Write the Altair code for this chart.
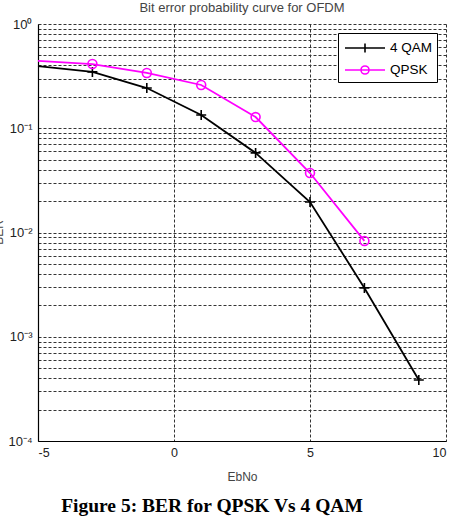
import altair as alt
import pandas as pd

# ---- data ----
ebno = [-5, -3, -1, 1, 3, 5, 7, 9]
qam4 = [0.395, 0.347, 0.243, 0.134, 0.058, 0.0196, 0.00294, 0.000385]
ebno_qpsk = [-5, -3, -1, 1, 3, 5, 7]
qpsk = [0.442, 0.413, 0.339, 0.260, 0.128, 0.0372, 0.0083]
series_names = ["4 QAM", "QPSK"]
series_colors = ["#000000", "#ff00ff"]
x_ticks = [-5, 0, 5, 10]
y_grid = [m * 10.0 ** e for e in range(-4, 0) for m in range(1, 10)] + [1.0]

title_text = "Bit error probability curve for OFDM"
caption_text = "Figure 5: BER for QPSK Vs 4 QAM"

rows = [{"EbNo": x, "BER": y, "series": "4 QAM"} for x, y in zip(ebno, qam4)]
rows += [{"EbNo": x, "BER": y, "series": "QPSK"} for x, y in zip(ebno_qpsk, qpsk)]
df = pd.DataFrame(rows)

FONT = "Liberation Sans Narrow, Liberation Sans, Arial"
plus_path = "M-1,0H1M0,-1V1"
leg_plus = "M-2,0H2M0,-0.45V0.45"
leg_circ = "M-2,0H2M-0.4,0A0.4,0.4 0 1,1 0.4,0A0.4,0.4 0 1,1 -0.4,0"

x_enc = alt.X(
    "EbNo:Q",
    scale=alt.Scale(domain=[-5, 10], nice=False, zero=False),
    axis=alt.Axis(
        values=x_ticks, title="EbNo", grid=True, ticks=False,
        labelFontSize=12.5, labelPadding=5, labelFont=FONT, labelColor="#222",
        titleFont=FONT, titleFontSize=12, titleFontWeight="normal", titleColor="#444",
        titleY=30, titleBaseline="top",
        domainColor="#000", domainWidth=1.2,
        gridColor="#333", gridDash=[3, 2], gridWidth=1, gridOpacity=1,
        labelExpr="toString(datum.value)",
    ),
)
sup = "{'0':'\u2070','1':'\u00b9','2':'\u00b2','3':'\u00b3','4':'\u2074'}"
y_enc = alt.Y(
    "BER:Q",
    scale=alt.Scale(type="log", domain=[1e-4, 1], nice=False),
    axis=alt.Axis(
        values=y_grid, title="BER", grid=True, ticks=False,
        labelFontSize=13, labelPadding=6, labelFont=FONT, labelColor="#222",
        labelExpr=(
            "abs(log(datum.value)/log(10) - round(log(datum.value)/log(10))) < 1e-6 ? "
            "(round(log(datum.value)/log(10)) == 0 ? '10\u2070' : "
            "'10\u207b' + " + sup + "[toString(-round(log(datum.value)/log(10)))]) : ''"
        ),
        titleFont=FONT, titleFontSize=12, titleFontWeight="normal", titleColor="#444",
        titleX=-33, titleY=208, titleAngle=-90, titleBaseline="bottom",
        domainColor="#000", domainWidth=1.2,
        gridColor="#333", gridDash=[3, 2], gridWidth=1, gridOpacity=1,
    ),
)

color_cond = alt.condition("datum.series == 'QPSK'", alt.value(series_colors[1]), alt.value(series_colors[0]))

lines = alt.Chart(df).mark_line(strokeWidth=1.8).encode(
    x=x_enc, y=y_enc, color=color_cond, detail="series:N"
)

points = alt.Chart(df).transform_filter("datum.EbNo > -5").mark_point(
    filled=False, strokeWidth=1.6, opacity=1
).encode(
    x="EbNo:Q", y="BER:Q",
    color=color_cond,
    shape=alt.condition("datum.series == 'QPSK'", alt.value("circle"), alt.value(plus_path)),
    size=alt.condition("datum.series == 'QPSK'", alt.value(80), alt.value(100)),
)

legend_layer = alt.Chart(df).transform_filter("datum.EbNo > 100").mark_point(
    filled=False, strokeWidth=1.6, opacity=1
).encode(
    x="EbNo:Q", y="BER:Q",
    color=alt.Color("series:N", scale=alt.Scale(domain=series_names, range=series_colors), title=None),
    shape=alt.Shape("series:N", scale=alt.Scale(domain=series_names, range=[leg_plus, leg_circ]), title=None),
)

title_mark = alt.Chart(pd.DataFrame({"t": [title_text]})).mark_text(
    font=FONT, fontSize=13, color="#444", align="center", baseline="alphabetic",
).encode(text="t:N", x=alt.value(204), y=alt.value(-12))

caption = alt.Chart(pd.DataFrame({"t": [caption_text]})).mark_text(
    font="Liberation Serif, Times New Roman", fontSize=19.5, fontWeight="bold",
    color="#000", align="center", baseline="alphabetic",
).encode(text="t:N", x=alt.value(174), y=alt.value(488))

chart = alt.layer(lines, points, legend_layer, title_mark, caption).properties(
    width=408, height=417,
    padding={"left": 38, "top": 24, "right": 9, "bottom": 76},
    autosize=alt.AutoSizeParams(type="none"),
).configure_view(stroke=None).configure_legend(
    orient="none", legendX=300, legendY=9,
    fillColor="white", strokeColor="#000", strokeWidth=1,
    padding=4, rowPadding=3, symbolSize=400, symbolOffset=12, labelOffset=14,
    symbolStrokeWidth=1.6, labelFont=FONT, labelFontSize=13.5, labelColor="#000",
)

chart.save("out.html", embed_options={"renderer": "svg", "actions": False})
